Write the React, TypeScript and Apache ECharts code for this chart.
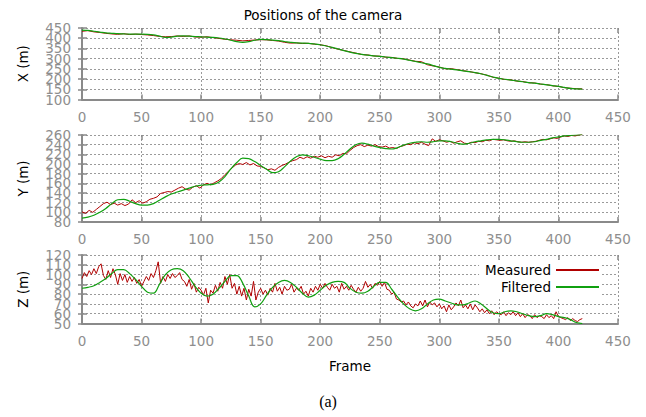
import React, { useEffect, useRef } from "react";
import * as echarts from "echarts";

// Frame axis
const FRAME_MIN = 0;
const FRAME_MAX = 450;
const FRAME_INTERVAL = 50;

// Sampling steps (frames between consecutive values)
const MEASURED_X_STEP = 5;
const MEASURED_Y_STEP = 3;
const MEASURED_Z_STEP = 2;
const FILTERED_STEP = 5;

// X (m)
const measuredX = [
  434, 437, 431, 428, 424, 421, 419, 422, 418, 420, 418, 416, 413, 409, 407, 408, 411, 409, 411, 406,
  405, 407, 403, 399, 395, 392, 390, 387, 389, 391, 393, 392, 389, 386, 380, 376, 377, 374, 375, 371,
  368, 363, 354, 346, 340, 333, 327, 320, 318, 313, 312, 307, 306, 301, 299, 293, 287, 285, 270, 264,
  259, 250, 251, 246, 241, 237, 231, 226, 219, 209, 204, 198, 196, 190, 188, 182, 181, 175, 173, 167,
  164, 158, 155, 153, 152,
];
const filteredX = [
  440, 438, 434, 430, 426, 424, 422, 421, 420, 420, 420, 419, 416, 410, 404, 405, 410, 411, 410, 408,
  407, 405, 404, 401, 396, 390, 383, 380, 383, 390, 394, 393, 391, 388, 384, 380, 377, 376, 375, 372,
  368, 362, 355, 347, 339, 332, 326, 321, 317, 314, 311, 308, 305, 302, 298, 292, 286, 280, 274, 266,
  257, 252, 249, 245, 240, 236, 232, 226, 218, 210, 203, 199, 195, 191, 187, 183, 180, 176, 172, 168,
  164, 159, 154, 152, 151,
];

// Y (m)
const measuredY = [
  101, 98, 104, 100, 106, 112, 118, 121, 116, 119, 115, 118, 114, 117, 126, 120, 124, 119, 122, 127,
  129, 132, 139, 141, 143, 142, 146, 150, 153, 148, 146, 152, 155, 150, 157, 160, 157, 161, 165, 170,
  178, 185, 192, 198, 201, 199, 203, 198, 201, 196, 195, 192, 188, 190, 187, 193, 197, 200, 204, 207,
  209, 214, 211, 215, 212, 216, 214, 217, 213, 216, 214, 219, 217, 222, 221, 228,
  234, 238, 240, 236, 239, 237, 240, 236, 235, 237, 233, 234, 232, 236, 238, 241, 240, 244, 242, 245,
  241, 238, 252, 247, 250, 248, 245, 247, 243, 246, 248, 243, 242, 245, 244, 247, 246, 249, 248, 251,
  250, 249, 250, 248, 247, 248, 246, 245, 246, 245, 246, 247, 249, 251, 250, 252, 254, 253, 256, 258,
  257, 259, 258, 260, 261,
];
const filteredY = [
  88, 90, 94, 100, 108, 118, 126, 127, 123, 118, 115, 115, 118, 125, 132, 138, 142, 146, 150, 154,
  156, 157, 158, 163, 174, 190, 203, 212, 211, 205, 197, 189, 182, 184, 194, 206, 215, 219, 217, 214,
  210, 207, 207, 211, 220, 231, 240, 243, 241, 237, 234, 232, 231, 234, 239, 243, 245, 246, 245, 246,
  248, 248, 246, 243, 241, 243, 246, 248, 250, 251, 251, 250, 248, 246, 245, 245, 246, 249, 251, 254,
  256, 258, 259, 260, 261,
];

// Z (m)
const measuredZ = [
  96, 102, 98, 104, 100, 106, 101, 108, 111, 99, 95, 104, 97, 106, 100, 90, 101, 94, 100, 92,
  98, 93, 97, 91, 95, 88, 93, 98, 94, 101, 97, 104, 113, 91, 98, 93, 100, 96, 101, 97,
  99, 102, 95, 93, 88, 95, 85, 91, 82, 87, 84, 79, 86, 71, 84, 81, 89, 83, 92, 86,
  98, 90, 100, 86, 91, 80, 88, 78, 86, 74, 85, 78, 93, 74, 82, 86, 80, 84, 79, 86,
  82, 91, 83, 87, 80, 88, 84, 85, 90, 82, 86, 84, 88, 80, 83, 78, 86, 82, 88, 84,
  90, 86, 91, 87, 84, 90, 86, 88, 82, 91, 85, 88, 84, 89, 85, 82, 87, 83, 86, 93,
  87, 90, 86, 91, 89, 93, 88, 92, 85, 84, 80, 82, 75, 74, 72, 73, 69, 72, 68, 66,
  70, 68, 73, 68, 74, 67, 72, 69, 71, 67, 70, 65, 68, 62, 69, 64, 67, 71, 68, 74,
  66, 69, 65, 70, 64, 69, 66, 62, 65, 61, 64, 60, 63, 59, 62, 60, 59, 62, 58, 61,
  59, 62, 58, 61, 57, 60, 56, 59, 58, 55, 59, 56, 58, 57, 55, 59, 56, 58, 55, 62,
  57, 56, 55, 54, 56, 53, 55, 53, 52, 54, 55,
];
const filteredZ = [
  86, 87, 88.6, 92, 96, 101, 105, 105, 101, 95, 88, 82, 81, 90, 100, 105, 106, 104, 97, 88,
  81, 78, 80, 86, 93, 99, 99, 91, 78, 67, 70, 79, 87, 92, 94, 92, 87, 81, 77, 79,
  84, 89, 92, 93, 92, 86, 82, 81, 83, 88, 92, 92, 85, 77, 70, 65, 63, 65, 70, 74,
  75, 73, 71, 69, 69, 71, 73, 70, 65, 61, 60, 62, 63, 62, 60, 58, 57, 58, 60, 59,
  57, 56, 54, 51, 50,
];

const panels = [
  { name: "X (m)", min: 100, max: 450, interval: 50, measured: measuredX, mStep: MEASURED_X_STEP, filtered: filteredX },
  { name: "Y (m)", min: 80, max: 260, interval: 20, measured: measuredY, mStep: MEASURED_Y_STEP, filtered: filteredY },
  { name: "Z (m)", min: 50, max: 120, interval: 10, measured: measuredZ, mStep: MEASURED_Z_STEP, filtered: filteredZ },
];

const toPairs = (vals: number[], step: number) => vals.map((v, i) => [i * step, v]);

const FONT = "DejaVu Sans";
const LABEL_COLOR = "#8e8e8e";
const AXIS_COLOR = "#8a8a8a";
const GRID_COLOR = "#9a9a9a";

export default function App() {
  const ref = useRef<HTMLDivElement>(null);
  useEffect(() => {
    if (!ref.current) return;
    const chart = echarts.init(ref.current, undefined, { renderer: "svg" });
    const grids = [
      { left: 82, width: 536, top: 28, height: 71.5 },
      { left: 82, width: 536, top: 135, height: 87 },
      { left: 82, width: 536, top: 255, height: 68.5 },
    ];
    const parityFormatter = (p: any, parity: number) => (val: number) =>
      Math.round((val - p.min) / p.interval) % 2 === parity ? String(val) : "";
    const yLabelStyle = (p: any, parity: number) => ({
      show: true,
      color: LABEL_COLOR,
      fontSize: 13.5,
      fontFamily: FONT,
      margin: 11,
      hideOverlap: false,
      showMinLabel: true,
      showMaxLabel: true,
      formatter: parityFormatter(p, parity),
    });
    const xAxes: any[] = [];
    const yAxes: any[] = [];
    const series: any[] = [];
    panels.forEach((p, i) => {
      xAxes.push({
        type: "value",
        gridIndex: i,
        position: "bottom",
        min: FRAME_MIN,
        max: FRAME_MAX,
        interval: FRAME_INTERVAL,
        name: i === 2 ? "Frame" : "",
        nameLocation: "middle",
        nameGap: 35,
        nameTextStyle: { color: "#000", fontSize: 13.5, fontFamily: FONT },
        axisLine: { show: true, onZero: false, lineStyle: { color: AXIS_COLOR, width: 2 } },
        axisTick: { show: true, inside: true, length: 5, lineStyle: { color: AXIS_COLOR, width: 1.5 } },
        axisLabel: { color: LABEL_COLOR, fontSize: 13.5, fontFamily: FONT, margin: 10, showMinLabel: true, showMaxLabel: true },
        splitLine: { show: true, lineStyle: { color: GRID_COLOR, width: 1, type: [2, 2] } },
      });
      yAxes.push({
        type: "value",
        gridIndex: i,
        position: "left",
        offset: 0,
        min: p.min,
        max: p.max,
        interval: p.interval,
        name: p.name,
        nameLocation: "middle",
        nameRotate: 90,
        nameGap: 52,
        nameTextStyle: { color: "#000", fontSize: 13.5, fontFamily: FONT },
        axisLine: { show: true, onZero: false, lineStyle: { color: AXIS_COLOR, width: 2 } },
        axisTick: { show: true, inside: true, length: 5, lineStyle: { color: AXIS_COLOR, width: 1.5 } },
        axisLabel: yLabelStyle(p, 0),
        splitLine: { show: true, lineStyle: { color: GRID_COLOR, width: 1, type: [2, 2] } },
      });
      series.push({
        name: "Measured",
        type: "line",
        xAxisIndex: i,
        yAxisIndex: i,
        data: toPairs(p.measured, p.mStep),
        showSymbol: false,
        symbol: "none",
        color: "#b00000",
        lineStyle: { color: "#b00000", width: 1 },
      });
      series.push({
        name: "Filtered",
        type: "line",
        xAxisIndex: i,
        yAxisIndex: i,
        data: toPairs(p.filtered, FILTERED_STEP),
        showSymbol: false,
        symbol: "none",
        smooth: 0.4,
        color: "#10a010",
        lineStyle: { color: "#10a010", width: 1.2 },
      });
    });
    panels.forEach((p, i) => {
      xAxes.push({
        type: "value",
        gridIndex: i,
        position: "top",
        min: FRAME_MIN,
        max: FRAME_MAX,
        interval: FRAME_INTERVAL,
        axisLine: { show: false },
        axisTick: { show: true, inside: true, length: 5, lineStyle: { color: AXIS_COLOR, width: 1.5 } },
        axisLabel: { show: false },
        splitLine: { show: false },
      });
      yAxes.push({
        type: "value",
        gridIndex: i,
        position: "right",
        min: p.min,
        max: p.max,
        interval: p.interval,
        axisLine: { show: false },
        axisTick: { show: true, inside: true, length: 4, lineStyle: { color: AXIS_COLOR, width: 1.5 } },
        axisLabel: { show: false },
        splitLine: { show: false },
      });
    });
    // second left axis per panel: carries the odd tick labels (the reference's labels are densely packed)
    panels.forEach((p, i) => {
      yAxes.push({
        type: "value",
        gridIndex: i,
        position: "left",
        offset: 0,
        min: p.min,
        max: p.max,
        interval: p.interval,
        axisLine: { show: false },
        axisTick: { show: false },
        axisLabel: yLabelStyle(p, 1),
        splitLine: { show: false },
      });
    });

    chart.setOption({
      animation: false,
      backgroundColor: "#fff",
      title: {
        text: "Positions of the camera",
        left: "center",
        top: 3,
        textStyle: { color: "#000", fontSize: 13.5, fontWeight: "normal", fontFamily: FONT },
      },
      legend: {
        data: ["Measured", "Filtered"],
        orient: "vertical",
        align: "right",
        right: 45,
        top: 260,
        padding: [3, 2, 3, 6],
        itemGap: 3,
        itemWidth: 43,
        itemHeight: 2,
        icon: "rect",
        backgroundColor: "#fff",
        textStyle: { color: "#000", fontSize: 13.5, fontFamily: FONT },
      },
      grid: grids,
      xAxis: xAxes,
      yAxis: yAxes,
      series,
      graphic: [
        {
          type: "text",
          x: 328,
          y: 401,
          style: {
            text: "(a)",
            fontSize: 16,
            fontFamily: "Liberation Serif",
            fill: "#000",
            align: "center",
            verticalAlign: "middle",
          },
        },
      ],
    });
    return () => chart.dispose();
  }, []);
  return (
    <div
      ref={ref}
      style={{ position: "fixed", left: 0, top: 0, width: 646, height: 417, background: "#fff" }}
    />
  );
}
